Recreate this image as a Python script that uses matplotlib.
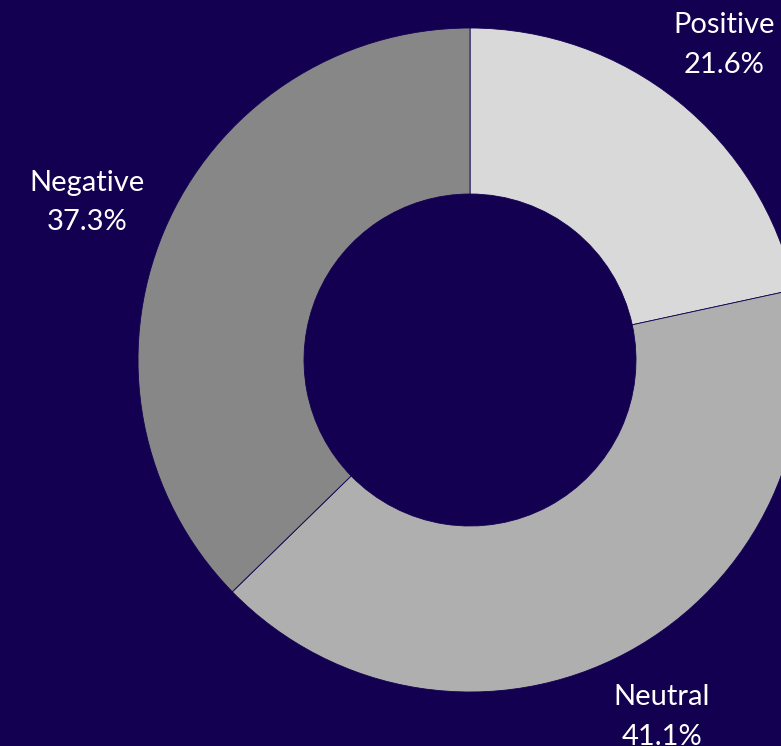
import matplotlib.pyplot as plt

labels = ['Positive', 'Neutral', 'Negative']
shares = [21.6, 41.1, 37.3]
colors = ['#d9d9d9', '#afafaf', '#878787']
bg = '#140050'

fig = plt.figure(figsize=(7.81, 7.46), dpi=100, facecolor=bg)
ax = fig.add_axes([0, 0, 1, 1])
ax.set_facecolor(bg)

R = 332
wedges, texts = ax.pie(shares, colors=colors, startangle=90, counterclock=False,
                       radius=1, labels=[f'{l}\n{s:.1f}%' for l, s in zip(labels, shares)],
                       labeldistance=1.22,
                       wedgeprops=dict(width=0.5, edgecolor=bg, linewidth=0.6),
                       textprops=dict(color='white', fontsize=21, family='Lato',
                                      ha='center', va='center', linespacing=1.65))
# nudge the left label a bit further out
texts[2].set_x(texts[2].get_position()[0] - 0.03)

# place the pie center at (470, 360) px with radius 332 px
ax.set_xlim(-470 / R, (781 - 470) / R)
ax.set_ylim(-(746 - 360) / R, 360 / R)
ax.set_aspect('equal')
ax.axis('off')

plt.savefig('out.png', facecolor=bg)
